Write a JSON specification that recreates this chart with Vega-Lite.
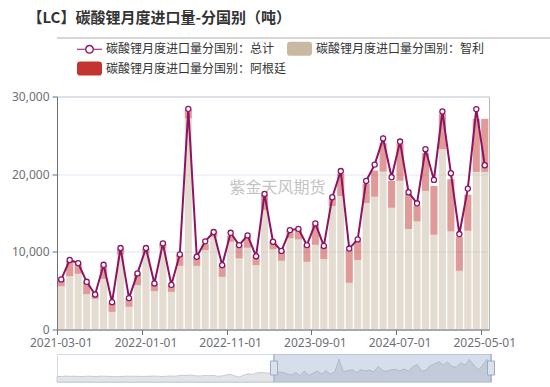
{
  "$schema": "https://vega.github.io/schema/vega-lite/v6.json",
  "background": "white",
  "padding": {"left": 10, "top": 11, "right": 4, "bottom": 4},
  "title": {
    "text": "【LC】碳酸锂月度进口量-分国别（吨）",
    "anchor": "start",
    "font": "Noto Sans CJK SC",
    "fontSize": 15,
    "fontWeight": "bold",
    "color": "#333333",
    "offset": 10,
    "dx": 17
  },
  "datasets": {
    "monthly": [
      {"date": "2017-01-01", "total": 2600}, {"date": "2017-02-01", "total": 2200}, {"date": "2017-03-01", "total": 2900},
      {"date": "2017-04-01", "total": 2500}, {"date": "2017-05-01", "total": 2700}, {"date": "2017-06-01", "total": 2400},
      {"date": "2017-07-01", "total": 2300}, {"date": "2017-08-01", "total": 2800}, {"date": "2017-09-01", "total": 2600},
      {"date": "2017-10-01", "total": 2100}, {"date": "2017-11-01", "total": 2900}, {"date": "2017-12-01", "total": 2700},
      {"date": "2018-01-01", "total": 2500}, {"date": "2018-02-01", "total": 2000}, {"date": "2018-03-01", "total": 2400},
      {"date": "2018-04-01", "total": 2300}, {"date": "2018-05-01", "total": 2800}, {"date": "2018-06-01", "total": 2600},
      {"date": "2018-07-01", "total": 2700}, {"date": "2018-08-01", "total": 2500}, {"date": "2018-09-01", "total": 2400},
      {"date": "2018-10-01", "total": 2600}, {"date": "2018-11-01", "total": 2900}, {"date": "2018-12-01", "total": 2800},
      {"date": "2019-01-01", "total": 2200}, {"date": "2019-02-01", "total": 2600}, {"date": "2019-03-01", "total": 3100},
      {"date": "2019-04-01", "total": 2700}, {"date": "2019-05-01", "total": 3500}, {"date": "2019-06-01", "total": 4200},
      {"date": "2019-07-01", "total": 3900}, {"date": "2019-08-01", "total": 4500}, {"date": "2019-09-01", "total": 3300},
      {"date": "2019-10-01", "total": 3100}, {"date": "2019-11-01", "total": 3800}, {"date": "2019-12-01", "total": 3600},
      {"date": "2020-01-01", "total": 4100}, {"date": "2020-02-01", "total": 2600}, {"date": "2020-03-01", "total": 3000},
      {"date": "2020-04-01", "total": 4700}, {"date": "2020-05-01", "total": 5600}, {"date": "2020-06-01", "total": 3200},
      {"date": "2020-07-01", "total": 1500}, {"date": "2020-08-01", "total": 4400}, {"date": "2020-09-01", "total": 6200},
      {"date": "2020-10-01", "total": 5400}, {"date": "2020-11-01", "total": 7600}, {"date": "2020-12-01", "total": 8300},
      {"date": "2021-01-01", "total": 7900}, {"date": "2021-02-01", "total": 7200},
      {"date": "2021-03-01", "total": 6450, "chile": 5580, "argentina": 870},
      {"date": "2021-04-01", "total": 8950, "chile": 6870, "argentina": 2000},
      {"date": "2021-05-01", "total": 8550, "chile": 7170, "argentina": 1330},
      {"date": "2021-06-01", "total": 6140, "chile": 4550, "argentina": 1550},
      {"date": "2021-07-01", "total": 4510, "chile": 3950, "argentina": 540},
      {"date": "2021-08-01", "total": 8330, "chile": 6530, "argentina": 1750},
      {"date": "2021-09-01", "total": 3520, "chile": 2270, "argentina": 1200},
      {"date": "2021-10-01", "total": 10490, "chile": 9700, "argentina": 760},
      {"date": "2021-11-01", "total": 4040, "chile": 2920, "argentina": 1090},
      {"date": "2021-12-01", "total": 7220, "chile": 5710, "argentina": 1460},
      {"date": "2022-01-01", "total": 10490, "chile": 9800, "argentina": 660},
      {"date": "2022-02-01", "total": 5930, "chile": 4940, "argentina": 960},
      {"date": "2022-03-01", "total": 11090, "chile": 10450, "argentina": 610},
      {"date": "2022-04-01", "total": 5750, "chile": 4850, "argentina": 870},
      {"date": "2022-05-01", "total": 9670, "chile": 8200, "argentina": 1420},
      {"date": "2022-06-01", "total": 28410, "chile": 27200, "argentina": 1150},
      {"date": "2022-07-01", "total": 9370, "chile": 8200, "argentina": 1250},
      {"date": "2022-08-01", "total": 11350, "chile": 10230, "argentina": 770},
      {"date": "2022-09-01", "total": 12550, "chile": 11940, "argentina": 650},
      {"date": "2022-10-01", "total": 8290, "chile": 6780, "argentina": 1500},
      {"date": "2022-11-01", "total": 12450, "chile": 11300, "argentina": 780},
      {"date": "2022-12-01", "total": 10870, "chile": 9160, "argentina": 1840},
      {"date": "2023-01-01", "total": 12120, "chile": 10530, "argentina": 1550},
      {"date": "2023-02-01", "total": 9430, "chile": 8290, "argentina": 1290},
      {"date": "2023-03-01", "total": 17450, "chile": 15390, "argentina": 1930},
      {"date": "2023-04-01", "total": 11300, "chile": 10320, "argentina": 1070},
      {"date": "2023-05-01", "total": 10120, "chile": 8850, "argentina": 1380},
      {"date": "2023-06-01", "total": 12800, "chile": 11740, "argentina": 1060},
      {"date": "2023-07-01", "total": 12960, "chile": 11600, "argentina": 1340},
      {"date": "2023-08-01", "total": 10870, "chile": 8720, "argentina": 2150},
      {"date": "2023-09-01", "total": 13670, "chile": 10900, "argentina": 2650},
      {"date": "2023-10-01", "total": 10760, "chile": 9060, "argentina": 1600},
      {"date": "2023-11-01", "total": 17030, "chile": 15900, "argentina": 1000},
      {"date": "2023-12-01", "total": 20400, "chile": 17190, "argentina": 2930},
      {"date": "2024-01-01", "total": 10420, "chile": 6010, "argentina": 4220},
      {"date": "2024-02-01", "total": 11600, "chile": 8940, "argentina": 2450},
      {"date": "2024-03-01", "total": 19130, "chile": 16280, "argentina": 2460},
      {"date": "2024-04-01", "total": 21230, "chile": 17100, "argentina": 3360},
      {"date": "2024-05-01", "total": 24600, "chile": 20330, "argentina": 3660},
      {"date": "2024-06-01", "total": 19600, "chile": 15680, "argentina": 3450},
      {"date": "2024-07-01", "total": 24200, "chile": 19170, "argentina": 4730},
      {"date": "2024-08-01", "total": 17670, "chile": 12940, "argentina": 4470},
      {"date": "2024-09-01", "total": 16250, "chile": 13930, "argentina": 2010},
      {"date": "2024-10-01", "total": 23220, "chile": 17840, "argentina": 4860},
      {"date": "2024-11-01", "total": 19260, "chile": 12200, "argentina": 6280},
      {"date": "2024-12-01", "total": 28070, "chile": 23220, "argentina": 4550},
      {"date": "2025-01-01", "total": 20120, "chile": 12640, "argentina": 6710},
      {"date": "2025-02-01", "total": 12290, "chile": 7560, "argentina": 4380},
      {"date": "2025-03-01", "total": 18140, "chile": 12720, "argentina": 4640},
      {"date": "2025-04-01", "total": 28380, "chile": 20290, "argentina": 6830},
      {"date": "2025-05-01", "total": 21150, "chile": 20290, "argentina": 6830}
    ]
  },
  "spacing": 2.5,
  "resolve": {"scale": {"x": "independent", "y": "independent"}},
  "vconcat": [
    {
      "width": 536,
      "height": 48.5,
      "view": {"stroke": null},
      "data": {"values": [{"a": 0, "b": 1, "level": 1}]},
      "mark": {"type": "rule", "color": "#c8c8c8", "strokeWidth": 1.5, "clip": false},
      "encoding": {
        "x": {"field": "a", "type": "quantitative", "scale": {"domain": [0, 1]}, "axis": null},
        "x2": {"field": "b"},
        "y": {"field": "level", "type": "quantitative", "scale": {"domain": [0, 1]}, "axis": null},
        "strokeOpacity": {"value": 1}
      }
    },
    {
      "width": 432,
      "height": 233,
      "view": {"stroke": "#b8b8b8"},
      "data": {"name": "monthly"},
      "transform": [{"filter": "datum.date >= '2021-03-01'"}],
      "encoding": {
        "x": {
          "field": "date",
          "type": "ordinal",
          "scale": {"paddingInner": 0.16, "paddingOuter": 0.08},
          "axis": {
            "title": null,
            "values": ["2021-03-01", "2022-01-01", "2022-11-01", "2023-09-01", "2024-07-01", "2025-05-01"],
            "labelAngle": 0,
            "bandPosition": 0,
            "tickSize": 5,
            "labelPadding": 3,
            "domainColor": "#6E7079",
            "tickColor": "#6E7079",
            "grid": false
          }
        }
      },
      "layer": [
        {
          "transform": [{"fold": ["chile", "argentina"], "as": ["series", "value"]}],
          "mark": {"type": "bar", "opacity": 0.5},
          "encoding": {
            "y": {
              "field": "value",
              "type": "quantitative",
              "stack": "zero",
              "scale": {"domain": [0, 30000], "nice": false},
              "axis": {
                "title": null,
                "values": [0, 5000, 10000, 15000, 20000, 25000, 30000],
                "format": ",.0f",
                "tickSize": 5,
                "labelPadding": 3,
                "domainColor": "#6E7079",
                "tickColor": "#6E7079",
                "gridColor": "#E0E6F1",
                "minExtent": 44,
                "maxExtent": 44
              }
            },
            "color": {
              "field": "series",
              "type": "nominal",
              "scale": {"domain": ["total", "chile", "argentina"], "range": ["#8E1462", "#C9B9A3", "#C23531"]},
              "legend": {
                "title": null,
                "orient": "none",
                "legendX": 20,
                "legendY": -2,
                "direction": "horizontal",
                "columns": 2,
                "gridAlign": "each",
                "columnPadding": 0,
                "rowPadding": 0,
                "labelFont": "Noto Sans CJK SC",
                "labelFontSize": 12,
                "labelColor": "#333333",
                "labelOffset": 4,
                "labelLimit": 300,
                "symbolSize": 625,
                "symbolOpacity": 1,
                "symbolStrokeWidth": 0,
                "labelExpr": "{'total':'碳酸锂月度进口量分国别：总计','chile':'碳酸锂月度进口量分国别：智利','argentina':'碳酸锂月度进口量分国别：阿根廷'}[datum.value]",
                "encode": {
                  "symbols": {
                    "update": {
                      "shape": {"signal": "datum.value === 'total' ? 'M-1,-0.045H-0.36V0.045H-1Z M0.36,-0.045H1V0.045H0.36Z M0.36,0A0.36,0.36,0,1,1,-0.36,0A0.36,0.36,0,1,1,0.36,0Z M0.25,0A0.25,0.25,0,1,0,-0.25,0A0.25,0.25,0,1,0,0.25,0Z' : 'M-0.75,-0.56H0.75Q1,-0.56,1,-0.31V0.31Q1,0.56,0.75,0.56H-0.75Q-1,0.56,-1,0.31V-0.31Q-1,-0.56,-0.75,-0.56Z'"},
                      "fill": {"signal": "datum.value === 'total' ? '#8E1462' : (datum.value === 'chile' ? '#C9B9A3' : '#C23531')"},
                      "stroke": {"value": "transparent"},
                      "strokeWidth": {"value": 0},
                      "opacity": {"value": 1},
                      "fillOpacity": {"value": 1},
                      "size": {"value": 625}
                    }
                  }
                }
              }
            },
            "order": {"field": "series", "sort": "descending"}
          }
        },
        {
          "data": {"values": [{}]},
          "mark": {"type": "text", "font": "Noto Sans CJK SC", "fontSize": 16, "color": "#c4c4c4", "align": "center", "baseline": "middle", "dx": -4},
          "encoding": {
            "x": {"datum": "2023-05-01"},
            "y": {"datum": 18200, "type": "quantitative"},
            "text": {"value": "紫金天风期货"}
          }
        },
        {
          "mark": {
            "type": "line",
            "strokeWidth": 2,
            "point": {"filled": false, "fill": "white", "size": 26, "strokeWidth": 1.3}
          },
          "encoding": {
            "y": {"field": "total", "type": "quantitative"},
            "color": {"datum": "total", "legend": null}
          }
        }
      ]
    },
    {
      "width": 434,
      "height": 28,
      "view": {"stroke": "#d2dbee"},
      "data": {"name": "monthly"},
      "encoding": {
        "x": {"field": "date", "type": "ordinal", "scale": {"type": "point", "padding": 0}, "axis": null}
      },
      "layer": [
        {
          "mark": {"type": "area", "fill": "#e2e4e8", "stroke": "#c8ccd2", "strokeWidth": 1, "interpolate": "linear"},
          "encoding": {
            "y": {
              "field": "total",
              "type": "quantitative",
              "scale": {"domain": [-6000, 36300], "nice": false, "zero": false},
              "axis": {"title": null, "labels": false, "ticks": false, "domain": false, "grid": false, "minExtent": 46, "maxExtent": 46}
            },
            "y2": {"datum": -6000}
          }
        },
        {
          "data": {"values": [{"start": "2021-03-01", "end": "2025-05-01"}]},
          "mark": {"type": "rect", "fill": "#7b93bd", "opacity": 0.3},
          "encoding": {
            "x": {"field": "start", "type": "ordinal"},
            "x2": {"field": "end"},
            "y": {"datum": 36300, "type": "quantitative"},
            "y2": {"datum": -6000}
          }
        },
        {
          "data": {"values": [{"edge": "2021-03-01"}, {"edge": "2025-05-01"}]},
          "mark": {"type": "rule", "color": "#a7b7cc", "strokeWidth": 1.5},
          "encoding": {
            "x": {"field": "edge", "type": "ordinal"},
            "y": {"datum": 36300, "type": "quantitative"},
            "y2": {"datum": -6000}
          }
        },
        {
          "data": {"values": [{"edge": "2021-03-01"}, {"edge": "2025-05-01"}]},
          "mark": {"type": "point", "shape": "M-0.5,-1H0.5V1H-0.5Z", "size": 196, "filled": true, "fill": "#dbe2ec", "stroke": "#9aabc4", "strokeWidth": 1, "opacity": 1},
          "encoding": {
            "x": {"field": "edge", "type": "ordinal"},
            "y": {"datum": 15150, "type": "quantitative"}
          }
        }
      ]
    }
  ],
  "config": {
    "axis": {"labelFont": "Noto Sans", "labelFontSize": 12, "labelColor": "#6E7079"},
    "legend": {"padding": 0, "fillColor": null}
  }
}
